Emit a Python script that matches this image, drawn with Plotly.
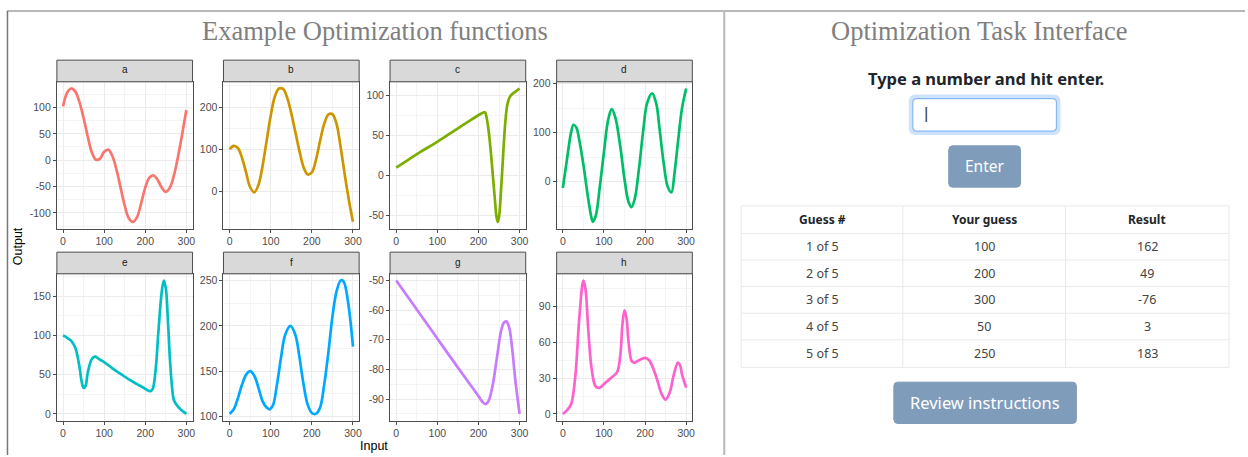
import plotly.graph_objects as go

# ---------------- data ----------------
a_x = [0,10,20,30,40,50,60,70,80,90,100,110,120,130,140,150,160,170,180,190,200,210,220,230,240,250,260,270,280,290,300]
a_y = [102,128,136,130,110,80,45,15,1,3,16,20,8,-18,-52,-86,-110,-117,-108,-82,-52,-33,-29,-37,-52,-60,-52,-28,8,50,95]

b_x = [0,10,20,30,40,50,60,70,80,90,100,110,120,130,140,150,160,170,180,190,200,210,220,230,240,250,260,270,280,290,300]
b_y = [100,108,103,80,45,10,-2,15,60,120,180,225,244,243,222,185,140,95,57,40,45,75,120,160,182,183,160,105,40,-20,-72]

c_x = [0,30,60,90,120,150,180,205,212,216,220,225,230,235,240,244,247,250,255,260,265,270,275,280,290,300]
c_y = [10,20,30,39,49,59,69,77,79,79,72,55,30,0,-30,-52,-58,-52,-18,25,65,88,97,101,105,109]

d_x = [0,10,20,26,33,40,50,60,70,73,80,90,100,110,119,128,140,150,160,167,175,185,195,205,217,227,235,245,255,264,272,280,290,300]
d_y = [-13,45,100,116,110,85,35,-25,-75,-82,-70,-10,60,125,148,130,70,5,-42,-52,-35,25,100,160,180,160,110,40,-10,-22,20,80,150,190]

e_x = [0,10,20,30,40,45,50,55,60,70,78,90,100,120,140,160,180,200,212,218,225,232,240,245,250,255,260,265,270,280,290,300]
e_y = [100,97,93,84,60,42,33,36,52,70,73,69,66,58,51,44,38,32,29,32,55,105,155,170,160,120,70,35,17,9,4,0]

f_x = [0,10,20,30,40,50,60,70,80,90,97,105,115,125,135,148,160,170,180,190,200,210,220,230,240,250,260,270,275,280,290,300]
f_y = [103,108,120,135,146,150,145,132,117,110,108,112,135,165,190,200,190,165,135,113,104,103,110,135,170,210,238,250,250,246,220,177]

g_x = [0,50,100,150,200,210,217,225,235,245,255,262,268,275,282,290,300]
g_y = [-50,-59.8,-69.6,-79.4,-89,-91,-91.7,-90.5,-85,-76,-67,-64.2,-63.8,-66,-73,-84,-95]

h_x = [0,10,20,30,40,50,55,62,70,80,90,100,110,120,132,140,145,150,155,160,168,175,185,200,210,220,230,240,250,260,270,280,285,290,300]
h_y = [0,3,8,30,80,112,105,70,38,23,22,25,28,31,35,50,75,87,80,60,44,43,45,47,45,38,28,17,12,18,33,43,41,33,22]

panel_labels = ["a", "b", "c", "d", "e", "f", "g", "h"]
xs = [a_x, b_x, c_x, d_x, e_x, f_x, g_x, h_x]
ys = [a_y, b_y, c_y, d_y, e_y, f_y, g_y, h_y]
y_ticks = [
    [-100, -50, 0, 50, 100],
    [0, 100, 200],
    [-50, 0, 50, 100],
    [0, 100, 200],
    [0, 50, 100, 150],
    [100, 150, 200, 250],
    [-90, -80, -70, -60, -50],
    [0, 30, 60, 90],
]
x_ticks = [0, 100, 200, 300]
colors = ["#F8766D", "#CD9600", "#7CAE00", "#00BE67", "#00BFC4", "#00A9FF", "#C77CFF", "#FF61CC"]

guess_labels = ["1 of 5", "2 of 5", "3 of 5", "4 of 5", "5 of 5"]
guesses = [100, 200, 300, 50, 250]
results = [162, 49, -76, 3, 183]
table_header = ["Guess #", "Your guess", "Result"]

# ---------------- layout helpers ----------------
W, H = 1248, 457
def fx(x): return x / W
def fy(y): return 1 - y / H

col_x = [(57, 193), (224, 360), (391, 527), (558, 694)]
row_y = [(56, 78, 227), (251, 273, 422)]  # strip top, plot top, plot bottom

fig = go.Figure()
shapes = []
annotations = []
layout = {}

tick_font = dict(family="Liberation Sans, Arial", size=10.5, color="#4d4d4d")

def note(x, y, text, font, **kw):
    annotations.append(dict(x=fx(x), y=fy(y), xref="paper", yref="paper", text=text, showarrow=False,
                            xanchor="center", yanchor="middle", font=font, **kw))

def hline(x0, x1, y, color, width=1):
    shapes.append(dict(type="line", xref="paper", yref="paper", x0=fx(x0), x1=fx(x1), y0=fy(y), y1=fy(y),
                       line=dict(color=color, width=width)))

def vline(x, y0, y1, color, width=1):
    shapes.append(dict(type="line", xref="paper", yref="paper", x0=fx(x), x1=fx(x), y0=fy(y0), y1=fy(y1),
                       line=dict(color=color, width=width)))

for i in range(8):
    r, c = divmod(i, 4)
    xl, xr = col_x[c]
    st, pt, pb = row_y[r]
    n = i + 1
    xa = "x" if n == 1 else f"x{n}"
    ya = "y" if n == 1 else f"y{n}"
    fig.add_trace(go.Scatter(x=xs[i], y=ys[i], mode="lines", xaxis=xa, yaxis=ya,
                             line=dict(color=colors[i], width=2.7, shape="spline", smoothing=1.0),
                             showlegend=False, hoverinfo="skip"))
    ymin, ymax = min(ys[i]), max(ys[i])
    pad = (ymax - ymin) * 0.05
    yt = y_ticks[i]
    step = yt[1] - yt[0]
    yminor = [yt[0] - step / 2] + [v + step / 2 for v in yt]
    common = dict(showline=True, mirror=True, linecolor="#4d4d4d", linewidth=1,
                  showgrid=True, gridcolor="#ebebeb", gridwidth=1,
                  zeroline=False, ticks="outside", ticklen=3, tickwidth=1, tickcolor="#4d4d4d",
                  tickfont=tick_font, fixedrange=True)
    layout["xaxis" if n == 1 else f"xaxis{n}"] = dict(
        domain=[fx(xl), fx(xr)], anchor=ya, range=[-15, 315],
        tickmode="array", tickvals=x_ticks, ticktext=[str(v) for v in x_ticks],
        minor=dict(tickvals=[-50, 50, 150, 250, 350], showgrid=True, gridcolor="#f4f4f4", gridwidth=0.6, ticks=""),
        **common)
    layout["yaxis" if n == 1 else f"yaxis{n}"] = dict(
        domain=[fy(pb), fy(pt)], anchor=xa, range=[ymin - pad, ymax + pad],
        tickmode="array", tickvals=yt, ticktext=[str(v) for v in yt],
        minor=dict(tickvals=yminor, showgrid=True, gridcolor="#f4f4f4", gridwidth=0.6, ticks=""),
        **common)
    # strip
    shapes.append(dict(type="rect", xref="paper", yref="paper",
                       x0=fx(xl), x1=fx(xr), y0=fy(pt), y1=fy(st),
                       fillcolor="#d9d9d9", line=dict(color="#4d4d4d", width=1), layer="above"))
    note((xl + xr) / 2, (st + pt) / 2 - 1, panel_labels[i],
         dict(family="Liberation Sans, Arial", size=10, color="#1a1a1a"))

# axis titles
note(375, 448, "Input", dict(family="Liberation Sans, Arial", size=12.5, color="#000"))
note(18, 245, "Output", dict(family="Liberation Sans, Arial", size=12.5, color="#000"), textangle=-90)

# titles
title_font = dict(family="Liberation Serif, serif", size=26.5, color="#7f7f7f")
note(376, 26, "Example Optimization functions", title_font)
note(981, 26, "Optimization Task Interface", title_font)

# frame lines
frame = dict(color="#b8b8b8", width=2)
shapes.append(dict(type="line", xref="paper", yref="paper", x0=fx(7), x1=1, y0=fy(6), y1=fy(6), line=frame))
shapes.append(dict(type="line", xref="paper", yref="paper", x0=fx(7.5), x1=fx(7.5), y0=fy(6), y1=0,
                   line=dict(color="#777777", width=1.5)))
shapes.append(dict(type="line", xref="paper", yref="paper", x0=fx(726), x1=fx(726), y0=fy(6), y1=0, line=frame))

def rrect(x0, y0, x1, y1, r):
    def P(x, y): return f"{fx(x):.6f},{fy(y):.6f}"
    return (f"M {P(x0 + r, y0)} L {P(x1 - r, y0)} Q {P(x1, y0)} {P(x1, y0 + r)} "
            f"L {P(x1, y1 - r)} Q {P(x1, y1)} {P(x1 - r, y1)} L {P(x0 + r, y1)} "
            f"Q {P(x0, y1)} {P(x0, y1 - r)} L {P(x0, y0 + r)} Q {P(x0, y0)} {P(x0 + r, y0)} Z")

# instruction text
note(988, 75, "<b>Type a number and hit enter.</b>", dict(family="Noto Sans, Open Sans", size=16.5, color="#212529"))
# input box with focus glow
shapes.append(dict(type="path", xref="paper", yref="paper", path=rrect(913, 93, 1061, 130, 5),
                   fillcolor="rgba(0,0,0,0)", line=dict(color="#cfe2fb", width=4)))
shapes.append(dict(type="path", xref="paper", yref="paper", path=rrect(915, 95, 1059, 128, 4),
                   fillcolor="white", line=dict(color="#86b7f5", width=1.2)))
note(928, 110, "|", dict(family="Liberation Sans", size=17, color="#444"))
# Enter button
btn = "#7f9dbb"
shapes.append(dict(type="path", xref="paper", yref="paper", path=rrect(951, 143, 1023, 185, 4),
                   fillcolor=btn, line=dict(color=btn, width=1)))
note(987, 164, "Enter", dict(family="Noto Sans, Open Sans", size=15.5, color="white"))
# Review button
shapes.append(dict(type="path", xref="paper", yref="paper", path=rrect(896, 383, 1079, 425, 4),
                   fillcolor=btn, line=dict(color=btn, width=1)))
note(987.5, 404, "Review instructions", dict(family="Noto Sans, Open Sans", size=16.5, color="white"))

# table (drawn as grid lines + text)
tx0, tx1 = 743, 1232
col_edges = [743, 905, 1068, 1232]
row_edges = [204, 232, 259, 286, 313, 340, 368]
grid_c = "#e9e9e9"
for yv in row_edges:
    hline(tx0, tx1, yv, grid_c)
for xv in col_edges:
    vline(xv, row_edges[0], row_edges[-1], grid_c)
col_centers = [(col_edges[k] + col_edges[k + 1]) / 2 for k in range(3)]
hdr_font = dict(family="Noto Sans, Open Sans", size=12, color="#212529")
cell_font = dict(family="Noto Sans, Open Sans", size=12.5, color="#444")
for k, h in enumerate(table_header):
    note(col_centers[k], (row_edges[0] + row_edges[1]) / 2, f"<b>{h}</b>", hdr_font)
columns = [guess_labels, [str(g) for g in guesses], [str(v) for v in results]]
for k, colvals in enumerate(columns):
    for j, v in enumerate(colvals):
        note(col_centers[k], (row_edges[j + 1] + row_edges[j + 2]) / 2, v, cell_font)

fig.update_layout(width=W, height=H, margin=dict(l=0, r=0, t=0, b=0),
                  paper_bgcolor="white", plot_bgcolor="white",
                  shapes=shapes, annotations=annotations, showlegend=False, **layout)

fig.write_html("out.html", config={"displayModeBar": False},
               post_script="document.body.style.margin='0';document.body.style.overflow='hidden';")
